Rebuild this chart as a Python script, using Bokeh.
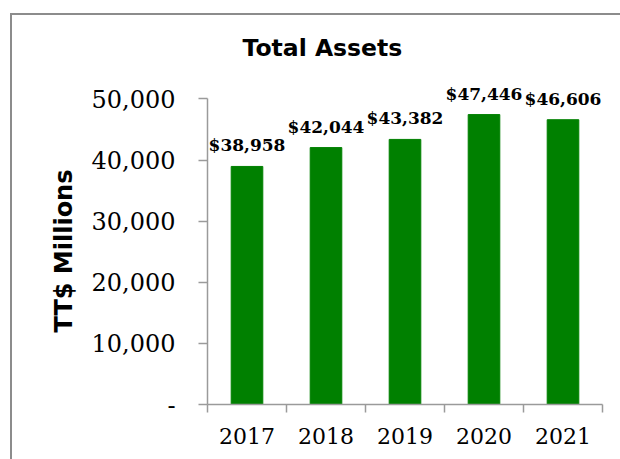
from bokeh.plotting import figure
from bokeh.models import ColumnDataSource, LabelSet, FixedTicker, Range1d, NumeralTickFormatter, Title
from bokeh.core.properties import value
from bokeh.embed import file_html
from bokeh.resources import INLINE

years = ["2017", "2018", "2019", "2020", "2021"]
assets = [38958, 42044, 43382, 47446, 46606]
y_ticks = [0, 10000, 20000, 30000, 40000, 50000]

centers = [i + 0.5 for i in range(len(years))]
labels = ["$" + format(v, ",") for v in assets]
src = ColumnDataSource(dict(x=centers, top=assets, lab=labels))

p = figure(frame_width=395, frame_height=342, output_backend="svg", toolbar_location=None,
           x_range=Range1d(0, len(years)), y_range=Range1d(0, 55970),
           min_border_left=195, min_border_right=18, min_border_top=47, min_border_bottom=55,
           title="Total Assets")
p.styles = {"margin-left": "10px", "margin-top": "13px",
            "border-left": "2px solid #8c8c8c", "border-top": "2px solid #8c8c8c"}
p.title.align = "left"
p.title.offset = 35
p.title.standoff = 2
p.title.text_font = "DejaVu Sans"
p.title.text_font_style = "bold"
p.title.text_font_size = "23.5px"
p.title.text_color = "black"

p.vbar(x="x", top="top", width=0.4, source=src, color="#008000")
p.add_layout(LabelSet(x="x", y="top", text="lab", source=src, y_offset=21,
                      text_align="center", text_baseline="middle",
                      text_font=value("DejaVu Serif"), text_font_style="bold",
                      text_font_size="17px", text_color="black"))

p.grid.visible = False
p.outline_line_color = None
p.background_fill_color = "white"
p.border_fill_color = "white"

ax = p.xaxis[0]
ax.ticker = FixedTicker(ticks=centers, minor_ticks=list(range(len(years) + 1)))
ax.major_label_overrides = {c: y for c, y in zip(centers, years)}
ax.major_tick_out = 0
ax.major_tick_in = 0
ax.minor_tick_out = 8
ax.minor_tick_in = 0
ax.minor_tick_line_color = "#9a9a9a"
ax.minor_tick_line_width = 1.5
ax.axis_line_color = "#9a9a9a"
ax.axis_line_width = 1.5
ax.major_label_standoff = 15
ax.major_label_text_font = "DejaVu Serif"
ax.major_label_text_font_size = "22px"
ax.major_label_text_color = "black"

ay = p.yaxis[0]
ay.ticker = FixedTicker(ticks=y_ticks, minor_ticks=[])
ay.formatter = NumeralTickFormatter(format="0,0")
ay.major_label_overrides = {0: "-"}
ay.bounds = (0, 50000)
ay.major_tick_out = 9
ay.major_tick_in = 0
ay.major_tick_line_color = "#9a9a9a"
ay.major_tick_line_width = 1.5
ay.axis_line_color = "#9a9a9a"
ay.axis_line_width = 1.5
ay.major_label_standoff = 23
ay.major_label_text_font = "DejaVu Serif"
ay.major_label_text_font_size = "24px"
ay.major_label_text_color = "black"

ylab = Title(text="TT$ Millions", align="left", offset=72, standoff=22,
             text_font="DejaVu Sans", text_font_style="bold",
             text_font_size="24px", text_color="black")
p.add_layout(ylab, "left")

open("out.html", "w").write(file_html(p, INLINE))
